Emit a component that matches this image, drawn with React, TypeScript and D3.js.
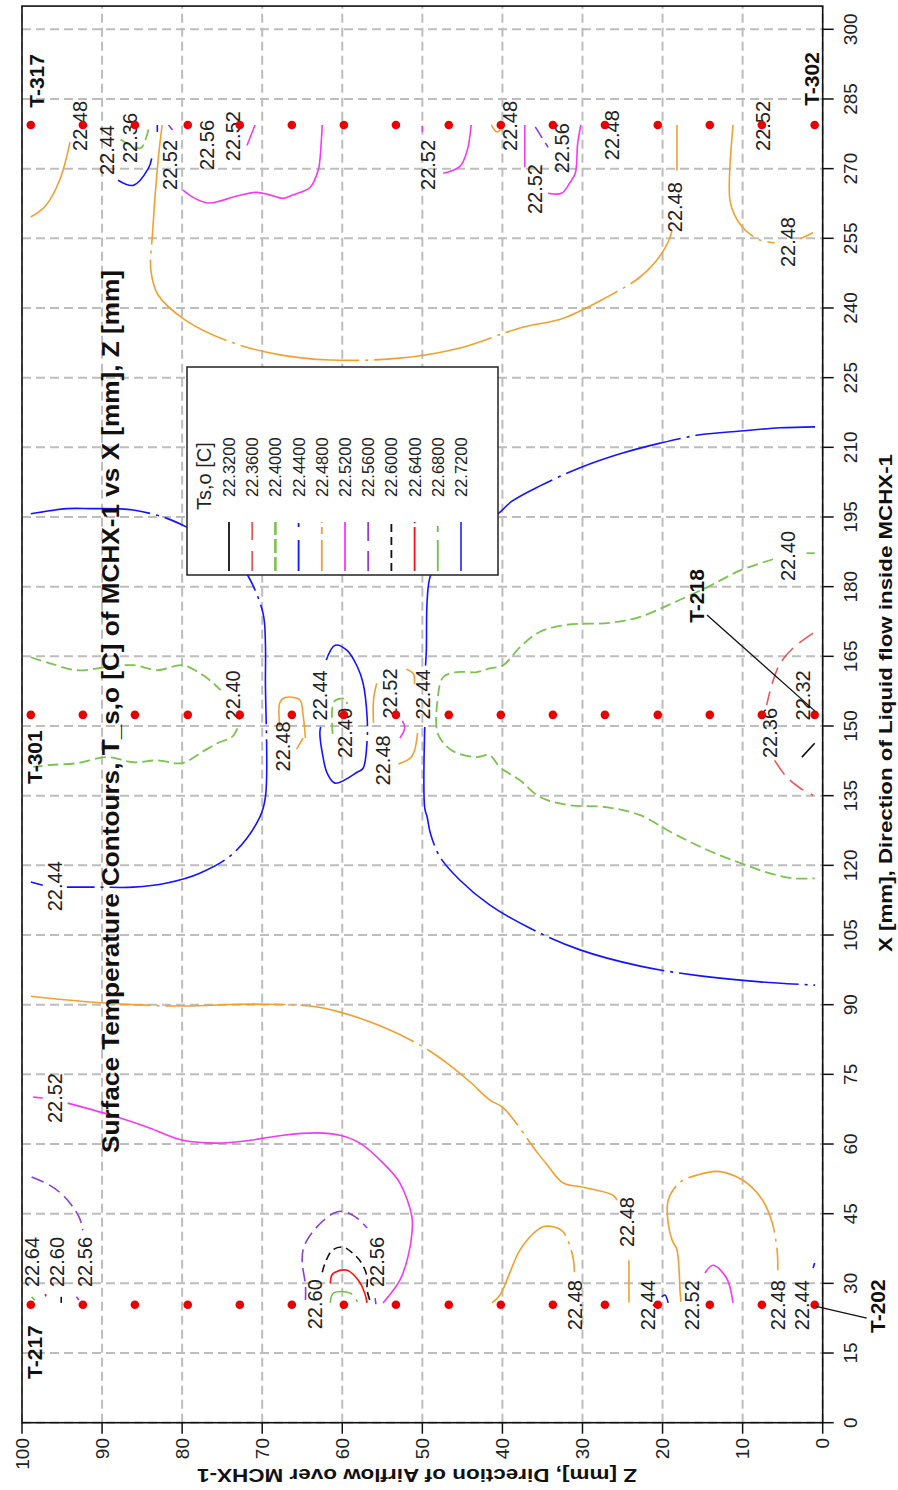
import React from 'react';
import * as d3 from 'd3';

type P = [number, number]; // [X mm, Z mm]

const W = 898;
const H = 1490;

const xTicks = d3.range(0, 301, 15);
const zTicks = d3.range(0, 101, 10);

const probeX = [25.4, 152.4, 279.4];
const probeZ = [98.9, 92.4, 85.9, 79.3, 72.8, 66.3, 59.8, 53.3, 46.7, 40.2, 33.7, 27.2, 20.6, 14.1, 7.6, 1.0];

const levels = [22.32, 22.36, 22.4, 22.44, 22.48, 22.52, 22.56, 22.6, 22.64, 22.68, 22.72];
const levelColors = ['#111111', '#e35b5b', '#7cc24e', '#1414ff', '#f0a030', '#f03cf0', '#8a3fcf', '#111111', '#ff1010', '#72c04c', '#3a3aff'];
const legendDash = ['none', '20,11', '14,4', '31,13,4,13', '31,6,7,4', 'none', '20,10', '8,5', '44,4,4,4', '31,8,6,8', 'none'];
const plotDash = ['none', '17,8', '11,5', '120,6,3,6', '120,6,3,6', 'none', '13,6', '8,5', 'none', '30,6,4,6', 'none'];

// ---- contour polylines [X, Z] ----
const c2248TopLeft: P[] = [[259.6, 98.9], [261.9, 97.1], [267.5, 95.3], [275.7, 94.0]];
const c2248BigU: P[] = [[279.4, 82.5], [271.8, 83.0], [256.1, 83.7], [248.1, 83.9], [242.8, 83.0], [237.4, 79.6], [232.7, 74.0], [229.9, 67.8], [228.8, 61.5], [229.2, 52.8], [231.4, 45.3], [235.7, 37.8], [237.8, 32.4], [242.4, 26.9], [246.4, 23.0], [249.9, 20.9], [254.2, 19.3], [256.8, 18.8]];
const c2248BigUEnd: P[] = [[269.6, 18.2], [279.4, 18.2]];
const c2248TopRight: P[] = [[279.4, 11.2], [263.3, 11.6], [260.0, 11.0], [256.8, 9.7], [254.6, 7.8], [254.0, 6.0]];
const c2248TopRightEnd: P[] = [[254.9, 2.8], [256.2, 1.2]];
const c2248TopTiny: P[] = [[279.4, 41.4], [277.9, 40.7], [278.4, 40.2]];
const c2248Long: P[] = [[91.8, 98.9], [90.4, 90.3], [89.7, 79.9], [90.1, 73.1], [90.1, 69.4], [89.7, 64.0], [88.4, 60.3], [85.2, 54.9], [80.9, 49.9], [77.0, 46.6], [73.3, 44.0], [69.5, 41.6], [67.8, 39.9], [58.3, 35.7], [55.5, 34.4], [51.6, 32.4], [50.7, 29.9], [49.0, 26.2], [47.9, 25.7]];
const c2248LongEnd: P[] = [[35.0, 24.2], [25.9, 24.2]];
const c2248ArchA: P[] = [[25.8, 41.3], [27.5, 40.3], [37.2, 37.8], [41.4, 35.7], [42.3, 34.7], [41.4, 32.6], [36.5, 31.3], [32.4, 31.0]];
const c2248ArchB: P[] = [[26.0, 17.7], [27.9, 17.8], [37.2, 18.2], [39.3, 18.8], [42.9, 19.3], [47.9, 19.3], [51.8, 17.8], [53.3, 15.7], [54.1, 13.2], [52.9, 10.7], [51.1, 9.1], [47.9, 7.5], [43.0, 6.3], [37.2, 5.7], [32.8, 5.6]];
const c2248MidL: P[] = [[149.8, 67.8], [155.0, 67.8], [156.1, 67.2], [155.6, 65.3], [152.4, 64.9], [147.4, 64.6]];
const c2248MidLb: P[] = [[147.4, 64.9], [145.0, 65.7]];
const c2248MidR: P[] = [[159.2, 55.7], [155.6, 56.1], [150.7, 56.1]];
const c2248MidRb: P[] = [[162.2, 52.0], [161.2, 51.1], [159.0, 51.0]];
const c2248MidRc: P[] = [[148.5, 50.6], [143.5, 51.3], [141.8, 53.0]];

const c2244TopLeftA: P[] = [[267.5, 88.0], [266.4, 86.1], [270.1, 84.2], [272.2, 83.8]];
const c2244TopLeftB: P[] = [[277.9, 83.1], [279.4, 83.1]];
const c2244Left: P[] = [[195.7, 98.9], [196.8, 94.4], [196.8, 91.5], [196.5, 86.1], [194.7, 81.9], [192.8, 79.4], [190.0, 76.5], [185.7, 73.4], [182.4, 71.8], [174.3, 69.9], [167.8, 69.6], [159.8, 69.6], [134.7, 69.6], [130.4, 70.3], [122.6, 73.6], [118.3, 77.8], [116.2, 81.9], [115.3, 86.1], [115.3, 90.3], [115.3, 94.4]];
const c2244LeftEnd: P[] = [[115.7, 97.4], [116.4, 98.9]];
const c2244RightUpper: P[] = [[214.4, 0.96], [214.2, 5.3], [213.5, 10.3], [212.7, 15.3], [210.9, 20.3], [208.6, 25.3], [205.6, 30.3], [201.7, 35.3], [198.4, 38.8], [195.6, 40.6], [193.0, 42.8], [189.8, 45.3], [185.7, 47.8], [182.3, 49.0], [177.1, 49.4], [166.4, 49.5], [163.0, 49.6]];
const c2244RightLower: P[] = [[149.8, 49.7], [132.3, 49.7], [130.4, 49.4], [126.9, 49.0], [121.8, 47.8], [116.8, 45.3], [111.5, 41.6], [106.5, 36.6], [101.8, 30.3], [98.3, 22.8], [96.2, 15.3], [94.9, 7.8], [94.2, 0.96]];
const c2244Ellipse: P[] = [[149.8, 62.7], [148.5, 62.8], [143.3, 62.4], [139.9, 61.9], [137.7, 60.9], [140.1, 58.1], [140.9, 57.4], [146.9, 56.9], [151.9, 56.9], [159.2, 57.4], [162.7, 58.1], [166.3, 59.4], [167.4, 60.9], [164.2, 62.0]];
const c2244TinyA: P[] = [[27.1, 20.1], [27.5, 19.7], [25.8, 19.3]];
const c2244TinyB: P[] = [[33.3, 1.2], [34.4, 1.0]];

const c2240TopLeft: P[] = [[276.3, 87.7], [274.4, 85.2], [276.6, 84.5], [279.4, 84.1]];
const c2240LeftUpper: P[] = [[164.8, 98.9], [163.5, 96.5], [162.0, 93.1], [162.7, 89.4], [163.1, 86.1], [162.0, 83.1], [163.1, 80.0], [161.4, 77.8], [159.2, 76.1], [157.7, 75.2]];
const c2240LeftLower: P[] = [[149.5, 73.1], [147.6, 73.8], [146.3, 75.6], [144.1, 77.8], [142.0, 80.0], [142.6, 83.1], [142.2, 86.1], [143.3, 89.4], [142.0, 93.1], [141.6, 96.5], [141.2, 98.6]];
const c2240Right: P[] = [[185.9, 6.2], [183.5, 10.3], [179.9, 14.4], [176.5, 18.7], [173.5, 22.8], [172.2, 26.6], [171.8, 31.9], [170.3, 35.3], [167.0, 37.8], [163.1, 39.9], [162.4, 41.6], [161.6, 43.2], [161.6, 45.7], [160.5, 47.4], [155.6, 48.1], [148.5, 48.1], [145.5, 46.9], [144.2, 45.7], [143.3, 43.2], [143.7, 41.6], [141.1, 40.3], [138.3, 37.8], [134.7, 35.3], [133.0, 31.9], [132.5, 26.9], [130.8, 22.8], [126.9, 18.7], [123.3, 14.4], [120.5, 10.3], [118.5, 7.0], [117.2, 3.7], [117.2, 1.0]];
const c2240RightEnd: P[] = [[187.2, 2.0], [187.2, 1.0]];
const c2240Inner: P[] = [[148.3, 61.2], [155.3, 61.0], [155.8, 59.6], [154.7, 59.4]];

const c2236TopRight: P[] = [[170.0, 1.2], [166.8, 3.7], [163.5, 5.3], [159.2, 6.3], [154.5, 7.0]];
const c2236TopRightB: P[] = [[142.6, 6.0], [139.0, 4.5], [136.6, 2.8], [135.1, 1.2]];
const c2232: P[] = [[143.3, 2.6], [146.3, 1.0]];

const c2252Top1: P[] = [[265.4, 79.9], [263.6, 78.4], [262.6, 76.8], [263.0, 75.3], [263.9, 73.6], [264.9, 70.7], [264.3, 69.0], [263.6, 67.4], [264.3, 66.2], [266.0, 64.0], [269.7, 63.0], [271.8, 62.8], [279.4, 62.5]];
const c2252Top2: P[] = [[275.0, 71.9], [279.4, 70.9]];
const c2252Top3: P[] = [[279.4, 43.9], [273.9, 44.4], [270.5, 45.3], [269.0, 47.4]];
const c2252Top3b: P[] = [[279.2, 50.0], [277.9, 50.0]];
const c2252Top4: P[] = [[279.4, 37.2], [270.3, 37.2]];
const c2252Top5: P[] = [[264.7, 34.3], [264.7, 32.6], [266.9, 31.6], [269.0, 30.9], [275.5, 30.6], [279.4, 30.2]];
const c2252Mid: P[] = [[151.1, 52.5], [149.6, 52.2], [147.4, 52.8]];
const c2252Big: P[] = [[68.8, 94.3], [65.8, 88.1], [63.4, 84.0], [60.8, 79.9], [60.2, 75.6], [60.8, 71.5], [61.9, 67.4], [62.4, 63.2], [61.9, 60.3], [60.2, 57.8], [55.9, 54.9], [51.6, 52.8], [44.3, 51.3], [40.8, 51.3], [35.7, 51.8], [30.7, 52.8], [25.8, 54.9]];
const c2252BigStart: P[] = [[70.1, 98.6], [69.9, 97.4]];
const c2252Small: P[] = [[32.2, 14.7], [33.9, 13.7], [31.1, 12.0], [25.8, 11.2]];

const c2256TopA: P[] = [[279.0, 35.9], [274.6, 34.3]];
const c2256TopB: P[] = [[279.4, 81.7], [278.3, 81.2]];
const c2256Left: P[] = [[52.9, 98.8], [51.1, 96.5], [49.0, 94.9], [46.8, 93.8], [44.0, 92.8], [41.4, 92.4]];
const c2256Arch: P[] = [[26.4, 64.6], [29.6, 64.6], [34.4, 65.0], [37.2, 64.9], [39.3, 64.4], [42.1, 63.2], [45.1, 61.1], [45.5, 59.9], [44.0, 58.1], [41.9, 56.9]];
const c2256ArchEnd: P[] = [[26.8, 55.9], [25.5, 55.8]];
const c2256Tiny: P[] = [[27.1, 93.2], [26.4, 92.9]];

const c2260Arch: P[] = [[32.4, 62.5], [34.6, 62.1], [37.2, 61.2], [37.8, 59.9], [36.5, 58.7], [34.4, 57.6], [31.4, 56.9], [28.6, 56.9], [26.0, 56.5]];
const c2260Tiny: P[] = [[27.1, 95.1], [25.8, 95.1]];
const c2264Arch: P[] = [[30.0, 61.5], [31.8, 61.3], [32.4, 60.9], [32.8, 59.4], [30.2, 57.8], [27.9, 57.2], [25.8, 56.9]];
const c2264Tiny: P[] = [[27.7, 97.1], [27.2, 97.0]];
const c2268Arch: P[] = [[25.8, 61.5], [27.9, 61.1], [27.9, 59.0], [26.0, 58.1]];
const c2268Tiny: P[] = [[27.1, 98.8], [26.4, 98.4]];

const contourSegments: [number, P[]][] = [
  [22.48, c2248TopLeft], [22.48, c2248BigU], [22.48, c2248BigUEnd], [22.48, c2248TopRight], [22.48, c2248TopRightEnd],
  [22.48, c2248TopTiny], [22.48, c2248Long], [22.48, c2248LongEnd], [22.48, c2248ArchA], [22.48, c2248ArchB],
  [22.48, c2248MidL], [22.48, c2248MidLb], [22.48, c2248MidR], [22.48, c2248MidRb], [22.48, c2248MidRc],
  [22.44, c2244TopLeftA], [22.44, c2244TopLeftB], [22.44, c2244Left], [22.44, c2244LeftEnd], [22.44, c2244RightUpper],
  [22.44, c2244RightLower], [22.44, c2244Ellipse], [22.44, c2244TinyA], [22.44, c2244TinyB],
  [22.4, c2240TopLeft], [22.4, c2240LeftUpper], [22.4, c2240LeftLower], [22.4, c2240Right], [22.4, c2240RightEnd], [22.4, c2240Inner],
  [22.36, c2236TopRight], [22.36, c2236TopRightB], [22.32, c2232],
  [22.52, c2252Top1], [22.52, c2252Top2], [22.52, c2252Top3], [22.52, c2252Top3b], [22.52, c2252Top4], [22.52, c2252Top5],
  [22.52, c2252Mid], [22.52, c2252Big], [22.52, c2252BigStart], [22.52, c2252Small],
  [22.56, c2256TopA], [22.56, c2256TopB], [22.56, c2256Left], [22.56, c2256Arch], [22.56, c2256ArchEnd], [22.56, c2256Tiny],
  [22.6, c2260Arch], [22.6, c2260Tiny], [22.64, c2264Arch], [22.64, c2264Tiny], [22.68, c2268Arch], [22.68, c2268Tiny],
];

// contour labels: text, X, Z
const contourLabels: [string, number, number][] = [
  ['22.48', 279.2, 92.7], ['22.44', 274.0, 89.4], ['22.36', 276.6, 86.5], ['22.52', 270.8, 81.5], ['22.56', 275.1, 76.9],
  ['22.52', 277.0, 73.6], ['22.52', 270.8, 49.3], ['22.48', 279.2, 39.1], ['22.52', 265.6, 35.9], ['22.56', 274.4, 32.6],
  ['22.48', 277.2, 26.3], ['22.48', 261.7, 18.4], ['22.52', 279.2, 7.5], ['22.48', 254.2, 4.3],
  ['22.44', 115.5, 95.9], ['22.40', 156.6, 73.6], ['22.48', 145.6, 67.4], ['22.44', 156.6, 62.8], ['22.40', 148.5, 59.6],
  ['22.52', 157.0, 54.0], ['22.48', 142.6, 54.9], ['22.44', 156.8, 49.9], ['22.40', 186.6, 4.3], ['22.32', 156.6, 2.5],
  ['22.36', 148.5, 6.6], ['22.52', 69.9, 95.9], ['22.64', 34.6, 98.8], ['22.60', 34.6, 95.6], ['22.56', 34.6, 92.1],
  ['22.60', 25.5, 63.4], ['22.56', 34.6, 55.7], ['22.48', 25.3, 30.9], ['22.44', 25.3, 21.8], ['22.52', 25.3, 16.3],
  ['22.48', 25.3, 5.6], ['22.44', 25.3, 2.6], ['22.48', 43.2, 24.5],
];

const tcLabels: [string, number, number][] = [
  ['T-317', 288.9, 98.2], ['T-302', 289.3, 1.4], ['T-301', 143.3, 98.4], ['T-217', 15.2, 98.4], ['T-202', 25.1, -6.9], ['T-218', 178.0, 15.7],
];
const leaderLines: P[][] = [
  [[173.9, 14.45], [153.2, 0.96]],
  [[25.1, 0.96], [22.5, -5.5]],
];

const FONT = "'Liberation Sans', Arial, sans-serif";

export default function App() {
  const u = d3.scaleLinear().domain([0, 300]).range([67.3, 1460.7]);
  const v = d3.scaleLinear().domain([0, 100]).range([822.7, 22]);
  const uMax = u(305);
  const line = d3.line<P>().x((p) => u(p[0])).y((p) => v(p[1])).curve(d3.curveCatmullRom.alpha(0.5));
  const straight = d3.line<P>().x((p) => u(p[0])).y((p) => v(p[1]));
  const li = (lev: number) => levels.findIndex((l) => Math.abs(l - lev) < 1e-6);

  const legU0 = 915, legU1 = 1123, legV0 = 187, legV1 = 498;
  const rowV = (i: number) => 229 + i * 23.2;

  return (
    <svg width={W} height={H} style={{ position: 'absolute', left: 0, top: 0, background: '#fff' }} fontFamily={FONT}>
      <rect x={0} y={0} width={W} height={H} fill="#fff" />
      <g transform={`translate(0,${H}) rotate(-90)`}>
        {/* grid */}
        {xTicks.map((t) => (
          <line key={'gx' + t} x1={u(t)} x2={u(t)} y1={v(100)} y2={v(0)} stroke="#bdbdbd" strokeWidth={2} strokeDasharray="9,5" />
        ))}
        {zTicks.map((t) => (
          <line key={'gz' + t} x1={u(0)} x2={uMax} y1={v(t)} y2={v(t)} stroke="#bdbdbd" strokeWidth={2} strokeDasharray="9,5" />
        ))}
        {/* contours */}
        {contourSegments.map(([lev, pts], i) => {
          const k = li(lev);
          return (
            <path key={'c' + i} d={(pts.length > 2 ? line(pts) : straight(pts)) || ''} fill="none" stroke={levelColors[k]}
              strokeWidth={k === 2 ? 1.8 : 1.6} strokeDasharray={plotDash[k] === 'none' ? undefined : plotDash[k]} />
          );
        })}
        {/* contour labels */}
        {contourLabels.map(([t, x, z], i) => (
          <text key={'l' + i} x={u(x)} y={v(z)} fontSize={20} fill="#222" textAnchor="middle" dominantBaseline="central">{t}</text>
        ))}
        {/* probes */}
        {probeX.map((x) => probeZ.map((z) => (
          <circle key={`p${x}-${z}`} cx={u(x)} cy={v(z)} r={4.3} fill="#e60000" />
        )))}
        {leaderLines.map((pts, i) => (
          <path key={'ld' + i} d={straight(pts) || ''} stroke="#111" strokeWidth={1.3} fill="none" />
        ))}
        {tcLabels.map(([t, x, z]) => (
          <text key={t} x={u(x)} y={v(z)} fontSize={21} fontWeight="bold" fill="#111" textAnchor="middle" dominantBaseline="central">{t}</text>
        ))}
        {/* frame */}
        <rect x={u(0)} y={v(100)} width={uMax - u(0)} height={v(0) - v(100)} fill="none" stroke="#111" strokeWidth={1.6} />
        {/* X axis ticks */}
        {xTicks.map((t) => (
          <g key={'tx' + t}>
            <line x1={u(t)} x2={u(t)} y1={v(0)} y2={v(0) + 11} stroke="#111" strokeWidth={1.5} />
            <text x={u(t)} y={857} fontSize={19} fill="#222" textAnchor="middle">{t}</text>
          </g>
        ))}
        {zTicks.map((t) => (
          <g key={'tz' + t}>
            <line x1={u(0)} x2={u(0) - 11} y1={v(t)} y2={v(t)} stroke="#111" strokeWidth={1.5} />
            <text x={52} y={v(t)} fontSize={19} fill="#222" textAnchor="end" dominantBaseline="central">{t}</text>
          </g>
        ))}
        <text x={787} y={885} fontSize={19} fontWeight="bold" fill="#111" textAnchor="middle" dominantBaseline="central"
          textLength={498} lengthAdjust="spacingAndGlyphs">
          X [mm], Direction of Liquid flow inside MCHX-1
        </text>
        <text transform={`translate(15,417) rotate(-90)`} fontSize={19} fontWeight="bold" fill="#111" textAnchor="middle" dominantBaseline="central"
          textLength={440} lengthAdjust="spacingAndGlyphs">
          Z [mm], Direction of Airflow over MCHX-1
        </text>
        {/* legend */}
        <rect x={legU0} y={legV0} width={legU1 - legU0} height={legV1 - legV0} fill="#fff" stroke="#222" strokeWidth={1.5} />
        <text x={980} y={204} fontSize={20} fill="#222" dominantBaseline="central">Ts,o [C]</text>
        {levels.map((l, i) => (
          <g key={'lg' + i}>
            <line x1={919} x2={968} y1={rowV(i)} y2={rowV(i)} stroke={levelColors[i]} strokeWidth={i === 2 ? 2.6 : 1.8}
              strokeDasharray={legendDash[i] === 'none' ? undefined : legendDash[i]} />
            <text x={993} y={rowV(i)} fontSize={16.5} fill="#222" dominantBaseline="central">{l.toFixed(4)}</text>
          </g>
        ))}
        {/* title */}
        <text x={778.5} y={111} fontSize={23} fontWeight="bold" fill="#111" textAnchor="middle" dominantBaseline="central"
          textLength={883} lengthAdjust="spacingAndGlyphs">
          Surface Temperature Contours, T_s,o [C] of MCHX-1 vs X [mm], Z [mm]
        </text>
      </g>
    </svg>
  );
}
